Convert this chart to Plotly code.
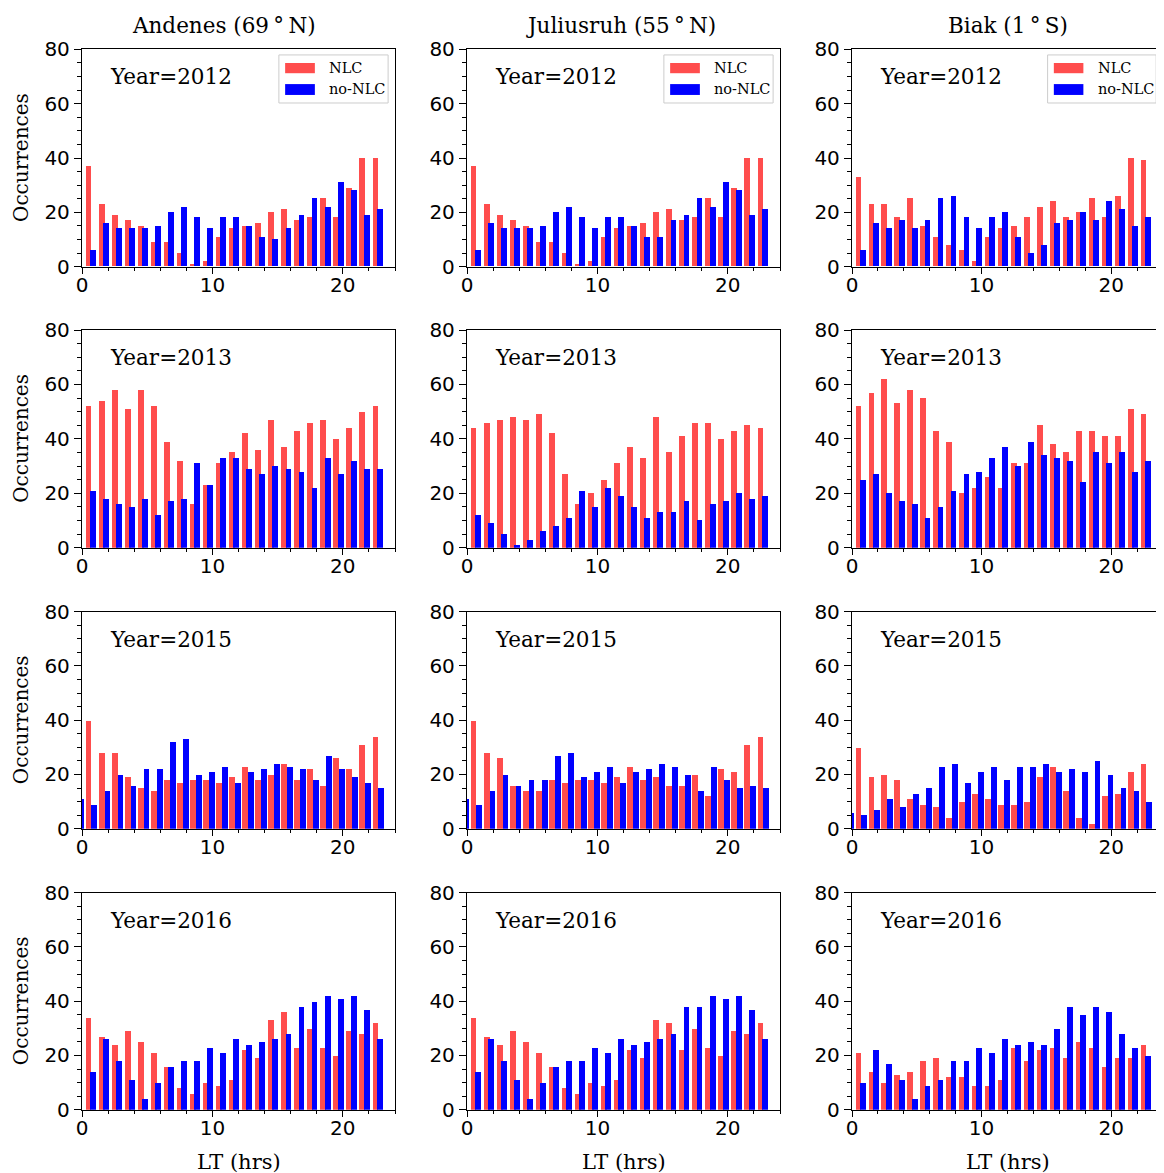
import plotly.graph_objects as go
from plotly.subplots import make_subplots

# ---------------- data ----------------
STATIONS = ["Andenes (69\u2009\u00b0\u2009N)",
            "Juliusruh (55\u2009\u00b0\u2009N)",
            "Biak (1\u2009\u00b0\u2009S)"]
YEARS = [2012, 2013, 2015, 2016]
HOURS = list(range(23))
HOURS_NON_2015 = list(range(-1, 23))
X_TICKS = [0, 10, 20]
Y_TICKS = [0, 20, 40, 60, 80]

AND_2012_NLC = [37, 23, 19, 17, 15, 9, 9, 5, 1, 2, 11, 14, 15, 16, 20, 21, 17, 18, 25, 18, 29, 40, 40]
AND_2012_NON = [6, 16, 14, 14, 14, 15, 20, 22, 18, 14, 18, 18, 15, 11, 10, 14, 19, 25, 22, 31, 28, 19, 21]
JUL_2012_NLC = [37, 23, 19, 17, 15, 9, 9, 5, 1, 2, 11, 14, 15, 16, 20, 21, 17, 18, 25, 18, 29, 40, 40]
JUL_2012_NON = [6, 16, 14, 14, 14, 15, 20, 22, 18, 14, 18, 18, 15, 11, 11, 17, 19, 25, 22, 31, 28, 19, 21]
BIA_2012_NLC = [33, 23, 23, 18, 25, 15, 11, 8, 6, 2, 11, 14, 15, 18, 22, 24, 18, 20, 25, 18, 26, 40, 39]
BIA_2012_NON = [6, 16, 14, 17, 14, 17, 25, 26, 18, 14, 18, 20, 11, 5, 8, 16, 17, 20, 17, 24, 21, 15, 18]

AND_2013_NLC = [52, 54, 58, 51, 58, 52, 39, 32, 16, 23, 31, 35, 42, 36, 47, 37, 43, 46, 47, 40, 44, 50, 52]
AND_2013_NON = [21, 18, 16, 15, 18, 12, 17, 18, 31, 23, 33, 33, 29, 27, 30, 29, 28, 22, 33, 27, 32, 29, 29]
JUL_2013_NLC = [44, 46, 47, 48, 47, 49, 42, 27, 16, 20, 25, 31, 37, 33, 48, 35, 41, 46, 46, 40, 43, 45, 44]
JUL_2013_NON = [12, 9, 5, 1, 3, 6, 8, 11, 21, 15, 22, 19, 15, 11, 13, 13, 17, 10, 16, 17, 20, 18, 19]
BIA_2013_NLC = [52, 57, 62, 53, 58, 55, 43, 39, 20, 22, 26, 22, 31, 31, 45, 38, 35, 43, 43, 41, 41, 51, 49]
BIA_2013_NON = [25, 27, 20, 17, 16, 11, 15, 21, 27, 28, 33, 37, 30, 39, 34, 33, 32, 24, 35, 31, 35, 28, 32]

AND_2015_NLC = [40, 28, 28, 19, 15, 14, 18, 17, 18, 18, 17, 19, 23, 18, 20, 24, 18, 22, 16, 26, 22, 31, 34]
AND_2015_NON = [11, 9, 14, 20, 16, 22, 22, 32, 33, 20, 21, 23, 17, 21, 22, 24, 23, 22, 18, 27, 22, 19, 17, 15]
JUL_2015_NLC = [40, 28, 26, 16, 14, 14, 18, 17, 18, 18, 17, 19, 23, 18, 19, 16, 16, 20, 12, 22, 21, 31, 34]
JUL_2015_NON = [11, 9, 14, 20, 16, 18, 18, 27, 28, 19, 21, 23, 17, 21, 22, 24, 23, 20, 14, 23, 18, 15, 16, 15]
BIA_2015_NLC = [30, 19, 20, 18, 11, 9, 8, 4, 10, 13, 11, 9, 9, 10, 19, 23, 14, 4, 2, 12, 13, 21, 24]
BIA_2015_NON = [6, 5, 7, 11, 8, 13, 15, 23, 24, 17, 21, 23, 18, 23, 23, 24, 21, 22, 21, 25, 20, 15, 14, 10]

AND_2016_NLC = [34, 27, 24, 29, 25, 21, 16, 8, 6, 10, 9, 11, 22, 19, 33, 36, 23, 30, 23, 20, 29, 28, 32]
AND_2016_NON = [14, 26, 18, 11, 4, 10, 16, 18, 18, 23, 21, 26, 24, 25, 26, 28, 38, 40, 42, 41, 42, 37, 26]
JUL_2016_NLC = [34, 27, 24, 29, 25, 21, 16, 8, 6, 10, 9, 11, 22, 19, 33, 32, 22, 30, 23, 20, 29, 28, 32]
JUL_2016_NON = [14, 26, 18, 11, 4, 10, 16, 18, 18, 23, 21, 26, 24, 25, 26, 28, 38, 38, 42, 41, 42, 37, 26]
BIA_2016_NLC = [21, 14, 10, 13, 14, 18, 19, 12, 12, 9, 9, 11, 23, 18, 22, 23, 19, 25, 23, 16, 19, 19, 24]
BIA_2016_NON = [10, 22, 17, 11, 4, 9, 11, 18, 18, 23, 21, 26, 24, 25, 24, 30, 38, 35, 38, 36, 28, 23, 20]

# ---------------- style ----------------
RED = "#FF4D4D"
BLUE = "#0000FF"
BAR_W = 0.45
NLC_OFF = 0.5
NON_OFF = 0.83
NON_OFF_2015 = 0.95
SERIF = "DejaVu Serif"
SANS = "DejaVu Sans"

PAGE_MARGIN = 8                      # default body margin of the html page
W, H = 1164 - PAGE_MARGIN, 1173 - PAGE_MARGIN
COL_PX = [(82, 395), (467, 780), (852, 1163)]
ROW_PX = [(49.3, 266.7), (330, 547.7), (611.7, 828.7), (892.7, 1109.7)]
TITLE_CX = [224, 621, 1008]


def px_x(x):
    return (x - PAGE_MARGIN) / W


def px_y(y):
    return 1 - (y - PAGE_MARGIN) / H


PANELS = [
    [(AND_2012_NLC, AND_2012_NON), (JUL_2012_NLC, JUL_2012_NON), (BIA_2012_NLC, BIA_2012_NON)],
    [(AND_2013_NLC, AND_2013_NON), (JUL_2013_NLC, JUL_2013_NON), (BIA_2013_NLC, BIA_2013_NON)],
    [(AND_2015_NLC, AND_2015_NON), (JUL_2015_NLC, JUL_2015_NON), (BIA_2015_NLC, BIA_2015_NON)],
    [(AND_2016_NLC, AND_2016_NON), (JUL_2016_NLC, JUL_2016_NON), (BIA_2016_NLC, BIA_2016_NON)],
]

fig = make_subplots(rows=4, cols=3)

for r, year in enumerate(YEARS):
    for c in range(3):
        nlc, non = PANELS[r][c]
        if year == 2015:
            non_x = [h + NON_OFF_2015 for h in HOURS_NON_2015]
        else:
            non_x = [h + NON_OFF for h in HOURS]
        fig.add_trace(go.Bar(x=[h + NLC_OFF for h in HOURS], y=nlc, width=BAR_W,
                             marker=dict(color=RED, line=dict(width=0)),
                             name="NLC", legendgroup="NLC", showlegend=False),
                      row=r + 1, col=c + 1)
        fig.add_trace(go.Bar(x=non_x, y=non, width=BAR_W,
                             marker=dict(color=BLUE, line=dict(width=0)),
                             name="no-NLC", legendgroup="non", showlegend=False),
                      row=r + 1, col=c + 1)

        idx = r * 3 + c + 1
        sfx = "" if idx == 1 else str(idx)
        xd = [px_x(COL_PX[c][0]), min(1.0, px_x(COL_PX[c][1]))]
        yd = [px_y(ROW_PX[r][1]), min(1.0, px_y(ROW_PX[r][0]))]
        fig.update_xaxes(domain=xd, range=[0, 24], tickvals=X_TICKS, automargin=False,
                         ticks="outside", ticklen=6, tickwidth=1.2, tickcolor="black",
                         ticklabelstandoff=-6,
                         showline=True, linecolor="black", linewidth=1.3, mirror=True,
                         showgrid=False, zeroline=False,
                         tickfont=dict(family=SANS, size=20, color="black"),
                         minor=dict(tick0=0, dtick=2, ticks="outside", ticklen=3.5,
                                    tickwidth=1, tickcolor="black", showgrid=False),
                         row=r + 1, col=c + 1)
        fig.update_yaxes(domain=yd, range=[0, 80], tickvals=Y_TICKS, automargin=False,
                         ticks="outside", ticklen=7, tickwidth=1.2, tickcolor="black",
                         showline=True, linecolor="black", linewidth=1.3, mirror=True,
                         showgrid=False, zeroline=False,
                         tickfont=dict(family=SANS, size=20, color="black"),
                         minor=dict(tick0=0, dtick=5, ticks="outside", ticklen=4,
                                    tickwidth=1, tickcolor="black", showgrid=False),
                         row=r + 1, col=c + 1)

        # year label
        fig.add_annotation(text=f"Year={year}", xref=f"x{sfx} domain", yref=f"y{sfx} domain",
                           x=0.083, y=0.873, xanchor="left", yanchor="middle",
                           showarrow=False, font=dict(family=SERIF, size=21.5, color="black"))

        # legend (top row)
        if r == 0:
            xr, yr = f"x{sfx} domain", f"y{sfx} domain"
            fig.add_shape(type="rect", xref=xr, yref=yr, x0=0.629, x1=0.978, y0=0.753, y1=0.974,
                          line=dict(color="#CCCCCC", width=1), fillcolor="white", layer="above")
            fig.add_shape(type="rect", xref=xr, yref=yr, x0=0.649, x1=0.744, y0=0.890, y1=0.937,
                          line=dict(width=0), fillcolor=RED, layer="above")
            fig.add_shape(type="rect", xref=xr, yref=yr, x0=0.649, x1=0.744, y0=0.790, y1=0.840,
                          line=dict(width=0), fillcolor=BLUE, layer="above")
            fig.add_annotation(text="NLC", xref=xr, yref=yr, x=0.783, y=0.914,
                               xanchor="left", yanchor="middle", showarrow=False,
                               font=dict(family=SERIF, size=14.5, color="black"))
            fig.add_annotation(text="no-NLC", xref=xr, yref=yr, x=0.783, y=0.817,
                               xanchor="left", yanchor="middle", showarrow=False,
                               font=dict(family=SERIF, size=14.5, color="black"))

# column titles and x labels
for c, name in enumerate(STATIONS):
    fig.add_annotation(text=name, xref="paper", yref="paper",
                       x=px_x(TITLE_CX[c]), y=px_y(25),
                       xanchor="center", yanchor="middle", showarrow=False,
                       font=dict(family=SERIF, size=21.5, color="black"))
    fig.add_annotation(text="LT (hrs)", xref="paper", yref="paper",
                       x=px_x((COL_PX[c][0] + COL_PX[c][1]) / 2), y=px_y(1162),
                       xanchor="center", yanchor="middle", showarrow=False,
                       font=dict(family=SERIF, size=21, color="black"))

# y labels
for r in range(4):
    fig.add_annotation(text="Occurrences", xref="paper", yref="paper",
                       x=px_x(21), y=px_y((ROW_PX[r][0] + ROW_PX[r][1]) / 2),
                       xanchor="center", yanchor="middle", textangle=-90, showarrow=False,
                       font=dict(family=SERIF, size=20, color="black"))

fig.update_layout(width=W, height=H, barmode="overlay", bargap=0,
                  margin=dict(l=0, r=0, t=0, b=0, autoexpand=False),
                  plot_bgcolor="white", paper_bgcolor="white", showlegend=False)

fig.write_html("out.html")
